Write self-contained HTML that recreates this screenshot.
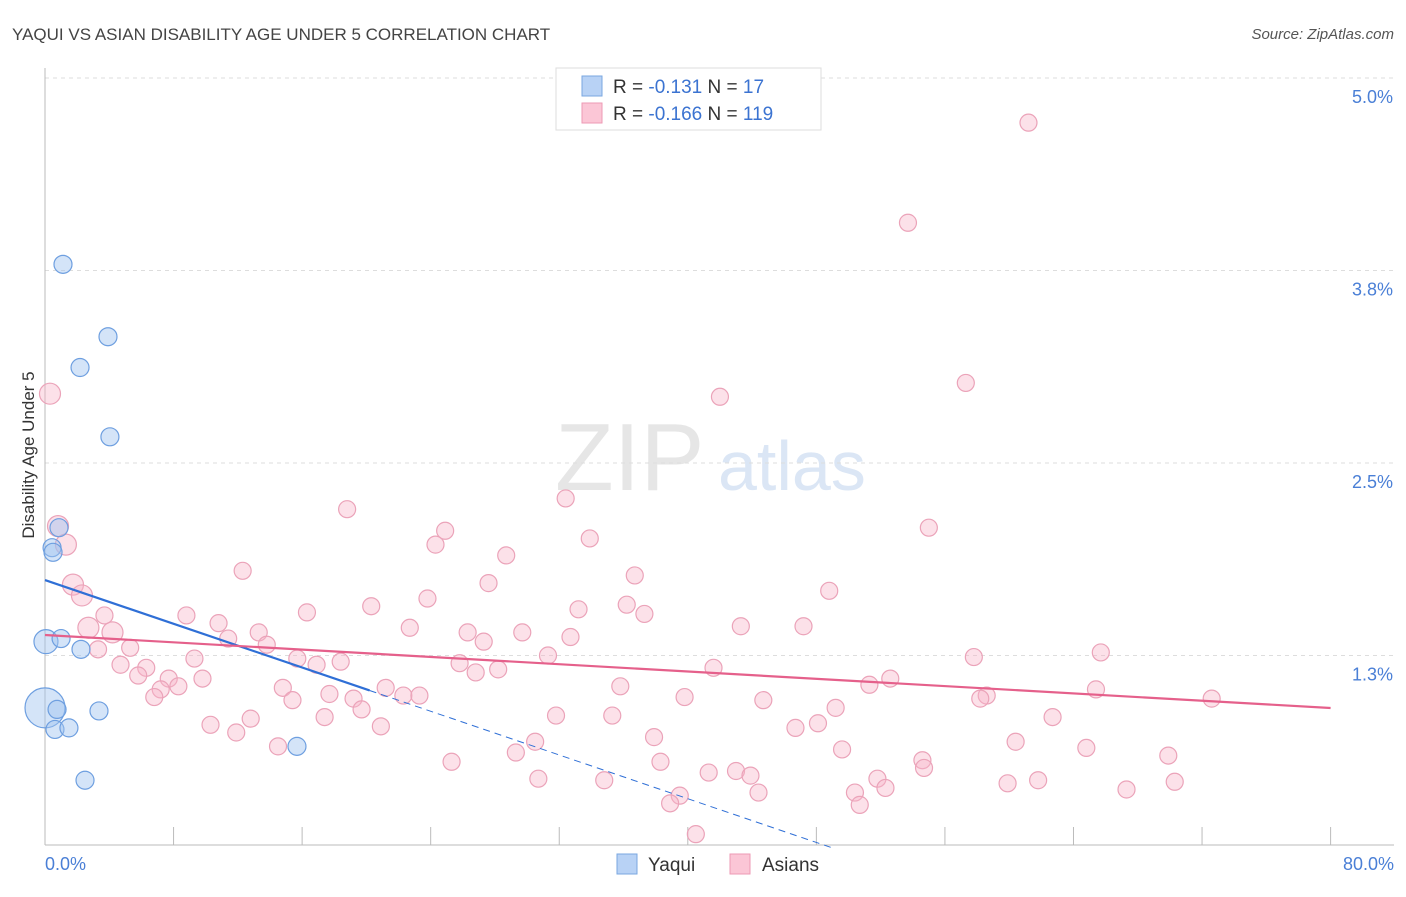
<!DOCTYPE html>
<html><head><meta charset="utf-8"><style>
body{margin:0;background:#fff;font-family:"Liberation Sans",sans-serif}
svg text{font-family:"Liberation Sans",sans-serif}
</style></head><body>
<svg id="chart" width="1406" height="892" xmlns="http://www.w3.org/2000/svg">
<text x="12" y="40" font-size="17" fill="#444">YAQUI VS ASIAN DISABILITY AGE UNDER 5 CORRELATION CHART</text>
<text x="1394" y="39" font-size="15" fill="#555" font-style="italic" text-anchor="end">Source: ZipAtlas.com</text>
<g>
<text x="555" y="490" font-size="96" fill="#e6e6e6" font-family="Liberation Serif,serif">ZIP</text>
<text x="718" y="490" font-size="70" fill="#dbe6f5">atlas</text></g>
<g id="grid"></g>
<g id="axes"></g>
<g id="marks"></g>
<g id="trends"></g>
<text transform="translate(34,455) rotate(-90)" font-size="17" fill="#333" text-anchor="middle">Disability Age Under 5</text>
<g>
<rect x="556" y="68" width="265" height="62" fill="#fff" stroke="#ddd"/>
<rect x="582" y="76" width="20" height="20" fill="#b8d2f5" stroke="#7aa7e0"/>
<rect x="582" y="103" width="20" height="20" fill="#fbc6d6" stroke="#ee9ab4"/>
<text x="613" y="93" font-size="19" fill="#333">R = <tspan fill="#3b73d1">-0.131</tspan>   N = <tspan fill="#3b73d1">  17</tspan></text>
<text x="613" y="120" font-size="19" fill="#333">R = <tspan fill="#3b73d1">-0.166</tspan>   N = <tspan fill="#3b73d1">119</tspan></text>
</g>
<g>
<rect x="617" y="854" width="20" height="20" fill="#b8d2f5" stroke="#7aa7e0"/>
<text x="648" y="871" font-size="19" fill="#333">Yaqui</text>
<rect x="730" y="854" width="20" height="20" fill="#fbc6d6" stroke="#ee9ab4"/>
<text x="762" y="871" font-size="19" fill="#333">Asians</text>
</g>
</svg>
<script>
const yTicks=[5.0,3.75,2.5,1.25];
const yTickLabels=["5.0%","3.8%","2.5%","1.3%"];
const xTickLabels=["0.0%","80.0%"];
const yaquiX=[1.12,3.92,2.18,4.04,0.87,0.44,0.5,0.06,1.0,2.24,0,0.75,0.62,1.49,3.36,15.68,2.49];
const yaquiY=[3.79,3.32,3.12,2.67,2.08,1.95,1.92,1.34,1.36,1.29,0.91,0.90,0.77,0.78,0.89,0.66,0.44];
const yaquiR=[9,9,9,9,9,9,9,12,9,9,20,9,9,9,9,9,9];
const asianX=[61.2,53.7,57.3,42.0,0.31,32.4,18.8,24.9,55.0,33.9,24.3,0.81,1.3,28.7,12.3,36.7,27.6,1.74,2.3,48.8,23.8,36.2,20.3,16.3,8.8,33.2,37.3,3.7,10.8,2.7,22.7,43.3,47.2,4.2,13.3,26.3,29.7,11.4,32.7,27.3,13.8,5.3,3.3,31.3,65.7,57.8,9.3,15.7,18.4,16.9,4.7,25.8,6.3,41.6,28.2,26.8,5.8,7.7,9.8,52.6,51.3,8.3,35.8,7.2,6.8,14.8,65.4,17.7,39.8,21.2,58.6,58.2,22.3,23.3,15.4,19.2,44.7,72.6,19.7,49.2,31.8,35.3,62.7,17.4,12.8,10.3,20.9,46.7,48.1,11.9,37.9,60.4,14.5,30.5,49.6,64.8,29.3,54.6,38.3,69.9,25.3,54.7,43.0,41.3,43.9,51.8,30.7,34.8,61.8,59.9,70.3,52.3,67.3,44.4,50.4,39.5,38.9,50.7,40.5];
const asianY=[4.71,4.06,3.02,2.93,2.95,2.27,2.20,2.06,2.08,2.01,1.97,2.09,1.97,1.90,1.80,1.77,1.72,1.71,1.64,1.67,1.62,1.58,1.57,1.53,1.51,1.55,1.52,1.51,1.46,1.43,1.43,1.44,1.44,1.40,1.40,1.40,1.40,1.36,1.37,1.34,1.32,1.30,1.29,1.25,1.27,1.24,1.23,1.23,1.21,1.19,1.19,1.20,1.17,1.17,1.16,1.14,1.12,1.10,1.10,1.10,1.06,1.05,1.05,1.03,0.98,1.04,1.03,1.00,0.98,1.04,0.99,0.97,0.99,0.99,0.96,0.97,0.96,0.97,0.90,0.91,0.86,0.86,0.85,0.85,0.84,0.80,0.79,0.78,0.81,0.75,0.72,0.69,0.66,0.69,0.64,0.65,0.62,0.57,0.56,0.60,0.56,0.52,0.50,0.49,0.47,0.45,0.45,0.44,0.44,0.42,0.43,0.39,0.38,0.36,0.36,0.34,0.29,0.28,0.09];
const bigAsian=[4,11,12,17,18,29,33];
const yaquiTrend=[1.74,-0.0355];
const asianTrend=[1.383,0.909];
const X=v=>45+v*16.07, Y=v=>848-v*154;
const NS="http://www.w3.org/2000/svg";
function mk(p,t,a){const e=document.createElementNS(NS,t);for(const k in a)e.setAttribute(k,a[k]);p.appendChild(e);return e;}
const grid=document.getElementById('grid'),axes=document.getElementById('axes'),marks=document.getElementById('marks'),trends=document.getElementById('trends');
yTicks.forEach((t,i)=>{const l=mk(grid,'line',{x1:45,x2:1394,y1:Y(t),y2:Y(t),stroke:'#ddd','stroke-dasharray':'4,4'});


const tx=mk(axes,'text',{x:1393,y:Y(t)+25,'font-size':18,fill:'#4a7fd6','text-anchor':'end'});tx.textContent=yTickLabels[i];

});
mk(axes,'line',{x1:45,x2:45,y1:68,y2:845,stroke:'#bbb'});
mk(axes,'line',{x1:45,x2:1394,y1:845,y2:845,stroke:'#bbb'});
for(let i=1;i<=10;i++){const t=mk(axes,'line',{x1:X(i*8),x2:X(i*8),y1:827,y2:845,stroke:'#bbb'});

}
const xl0=mk(axes,'text',{x:45,y:870,'font-size':18,fill:'#4a7fd6'});xl0.textContent=xTickLabels[0];


const xl1=mk(axes,'text',{x:1394,y:870,'font-size':18,fill:'#4a7fd6','text-anchor':'end'});xl1.textContent=xTickLabels[1];


asianX.forEach((v,i)=>{const c=mk(marks,'circle',{cx:X(v),cy:Y(asianY[i]),r:bigAsian.includes(i)?10.5:8.5,fill:'rgba(248,180,200,0.4)',stroke:'#eba3b9','stroke-width':1.2});

});
yaquiX.forEach((v,i)=>{const c=mk(marks,'circle',{cx:X(v),cy:Y(yaquiY[i]),r:yaquiR[i],fill:'rgba(160,195,240,0.45)',stroke:'#6e9fe0','stroke-width':1.2});

});
const yb=x=>yaquiTrend[0]+yaquiTrend[1]*x;
const xEnd=-yaquiTrend[0]/yaquiTrend[1];
const l1=mk(trends,'line',{x1:X(0),y1:Y(yb(0)),x2:X(20.2),y2:Y(yb(20.2)),stroke:'#2f6fd6','stroke-width':2.2});


const l2=mk(trends,'line',{x1:X(20.2),y1:Y(yb(20.2)),x2:X(xEnd),y2:Y(0),stroke:'#2f6fd6','stroke-width':1,'stroke-dasharray':'7,5'});


const l3=mk(trends,'line',{x1:X(0),y1:Y(asianTrend[0]),x2:X(80),y2:Y(asianTrend[1]),stroke:'#e5608b','stroke-width':2.2});


</script>
</body></html>
